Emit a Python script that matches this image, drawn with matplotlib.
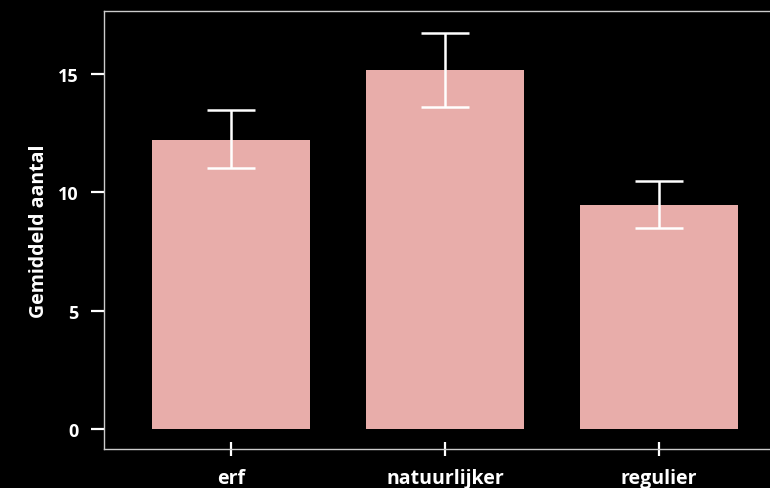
import matplotlib
matplotlib.use("Agg")
import matplotlib.pyplot as plt

categories = ["erf", "natuurlijker", "regulier"]
means = [12.2, 15.17, 9.46]
err_low = [11.03, 13.60, 8.49]
err_high = [13.48, 16.73, 10.48]

plt.rcParams['font.family'] = ['Open Sans', 'DejaVu Sans']

fig = plt.figure(figsize=(7.7, 4.89), dpi=100, facecolor='black')
ax = fig.add_axes([104/770, 1-450/489, (786-104)/770, (450-12)/489], facecolor='black')

x = list(range(len(categories)))
ax.bar(x, means, width=0.74, color='#E8ADAA', zorder=2)
yerr = [[m - l for m, l in zip(means, err_low)], [h - m for m, h in zip(means, err_high)]]
ax.errorbar(x, means, yerr=yerr, fmt='none', ecolor='white', elinewidth=1.8,
            capsize=17, capthick=1.8, zorder=3)

ax.set_xlim(-0.593, 2.593)
ax.set_ylim(-0.845, 17.66)
ax.set_xticks(x)
ax.set_xticklabels(categories)
ax.set_yticks([0, 5, 10, 15])
ax.set_yticklabels(['0', '5', '10', '15'])
ax.set_ylabel('Gemiddeld aantal', color='white', fontsize=14, fontweight='bold', labelpad=6)

for s in ax.spines.values():
    s.set_color('#cccccc')
    s.set_linewidth(1.0)
ax.tick_params(axis='y', colors='white', direction='out', length=9.5, width=1.6,
               labelsize=13, pad=9)
ax.tick_params(axis='x', colors='white', direction='inout', length=10, width=1.6,
               labelsize=14, pad=9)
for lab in ax.get_xticklabels() + ax.get_yticklabels():
    lab.set_fontweight('bold')

fig.savefig('out.png', dpi=100, facecolor='black')
